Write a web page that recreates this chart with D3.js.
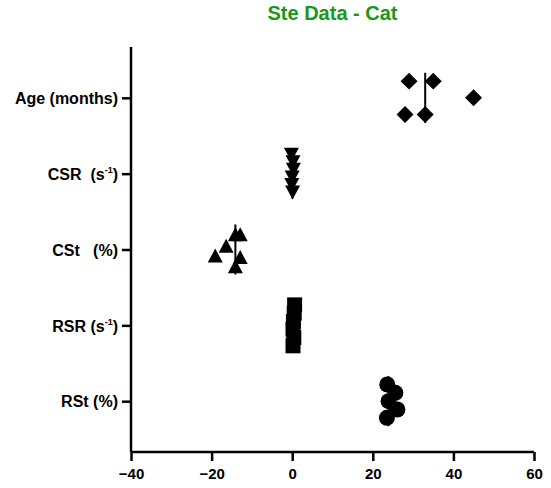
<!DOCTYPE html>
<html>
<head>
<meta charset="utf-8">
<script src="https://cdn.jsdelivr.net/npm/d3@7"></script>
<style>
  body { margin: 0; background: #fff; }
  text { font-family: "Liberation Sans", Arial, sans-serif; font-weight: bold; }
</style>
</head>
<body>
<svg id="chart" width="551" height="488"></svg>
<script>
// categories (top to bottom) and their tick labels [text, superscript, tail]
var categories = ["Age", "CSR", "CSt", "RSR", "RSt"];
var categoryLabels = [
    ["Age (months)", "", ""],
    ["CSR  (s", "-1", ")"],
    ["CSt   (%)", "", ""],
    ["RSR (s", "-1", ")"],
    ["RSt (%)", "", ""]
];
var xTicks = [-40, -20, 0, 20, 40, 60];

// values; spread = vertical scatter as fraction of the row step
var ageValues = [29, 35, 28, 33, 45];
var ageSpread = [-0.22, -0.22, 0.22, 0.22, 0];
var csrValues = [-0.2, 0.2, 0.3, 0.0, -0.1, 0.1];
var csrSpread = [-0.25, -0.15, -0.05, 0.05, 0.15, 0.25];
var cstValues = [-19.1, -16.4, -14.1, -12.9, -12.9, -14.1];
var cstSpread = [0.08, -0.05, -0.2, -0.2, 0.1, 0.22];
var rsrValues = [0.6, 0.5, 0.3, 0.2, 0.4, 0.2];
var rsrSpread = [-0.27, -0.16, -0.05, 0.05, 0.16, 0.27];
var rstValues = [23.6, 25.6, 23.9, 26.1, 23.5];
var rstSpread = [-0.22, -0.11, 0, 0.11, 0.22];

var svg = d3.select("#chart");
var margin = {top: 47, right: 17, bottom: 36, left: 131};
var width = 551 - margin.left - margin.right;
var height = 488 - margin.top - margin.bottom;

var g = svg.append("g")
    .attr("transform", "translate(" + margin.left + "," + margin.top + ")");

var x = d3.scaleLinear().domain([-40, 60]).range([0, width]);
var y = d3.scalePoint().domain(categories).range([0, height]).padding(0.67);
var step = y.step();

// marker shapes: diamond, down triangle, up triangle, square, circle
var groups = [
    {cat: "Age", values: ageValues, spread: ageSpread, path: d3.symbol(d3.symbolSquare, 144)(), rotate: 45},
    {cat: "CSR", values: csrValues, spread: csrSpread, path: "M-7.5,-7L7.5,-7L0,7Z", rotate: 0},
    {cat: "CSt", values: cstValues, spread: cstSpread, path: "M-7.5,7L7.5,7L0,-7Z", rotate: 0},
    {cat: "RSR", values: rsrValues, spread: rsrSpread, path: d3.symbol(d3.symbolSquare, 225)(), rotate: 0},
    {cat: "RSt", values: rstValues, spread: rstSpread, path: d3.symbol(d3.symbolCircle, 201)(), rotate: 0}
];

// Add X axis
var xAxis = g.append("g")
    .attr("transform", "translate(0," + height + ")")
    .call(d3.axisBottom(x).tickValues(xTicks).tickSize(9).tickSizeOuter(0).tickPadding(7));
// Add Y axis
var yAxis = g.append("g")
    .call(d3.axisLeft(y).tickSize(9).tickSizeOuter(0).tickPadding(4).tickFormat(""));

[xAxis, yAxis].forEach(function (a) {
    a.selectAll("path, line").attr("stroke", "#000").attr("stroke-width", 2.5);
    a.selectAll("text").attr("fill", "#000").style("font-family", null);
});
xAxis.selectAll("text").style("font-size", "15px");
yAxis.selectAll("text").style("font-size", "16px");
xAxis.select(".domain").attr("d", "M0,0H" + width);
yAxis.select(".domain").attr("d", "M0,0V" + height);

// y tick labels with superscripts
yAxis.selectAll(".tick text").each(function (d, i) {
    var parts = categoryLabels[i];
    var t = d3.select(this).style("white-space", "pre").attr("dy", "0.36em");
    t.append("tspan").text(parts[0]);
    if (parts[1]) {
        t.append("tspan").text(parts[1]).style("font-size", "9px").attr("dy", "-7");
        t.append("tspan").text(parts[2]).attr("dy", "7");
    }
});

// median lines
g.append("g").selectAll("line")
    .data(groups)
    .enter()
    .append("line")
    .attr("x1", function (d) { return x(d3.median(d.values)); })
    .attr("x2", function (d) { return x(d3.median(d.values)); })
    .attr("y1", function (d) { return y(d.cat) - step * 0.33; })
    .attr("y2", function (d) { return y(d.cat) + step * 0.33; })
    .attr("stroke", "#000")
    .attr("stroke-width", 2);

// points
groups.forEach(function (grp) {
    g.append("g").selectAll("path")
        .data(grp.values)
        .enter()
        .append("path")
        .attr("d", grp.path)
        .attr("fill", "#000")
        .attr("transform", function (v, i) {
            return "translate(" + x(v) + "," + (y(grp.cat) + grp.spread[i] * step) + ") rotate(" + grp.rotate + ")";
        });
});

// title
svg.append("text")
    .attr("x", margin.left + x(10))
    .attr("y", 20)
    .attr("text-anchor", "middle")
    .attr("fill", "#1a961a")
    .style("font-size", "20px")
    .text("Ste Data - Cat");
</script>
</body>
</html>
